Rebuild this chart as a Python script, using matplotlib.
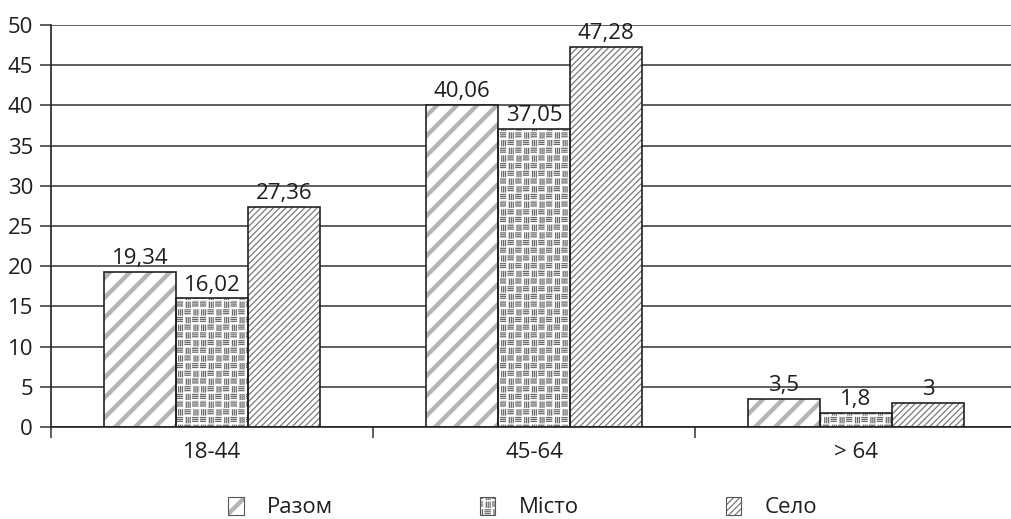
import warnings
import numpy as np
import matplotlib
matplotlib.use("Agg")
import matplotlib.pyplot as plt
import matplotlib.hatch as mhatch
from matplotlib.path import Path
from matplotlib.patches import Patch
from matplotlib.legend_handler import HandlerTuple

warnings.filterwarnings("ignore")

groups = ["18-44", "45-64", "> 64"]
series = ["Разом", "Місто", "Село"]
razom = [19.34, 40.06, 3.5]
misto = [16.02, 37.05, 1.8]
selo = [27.36, 47.28, 3.0]

plt.rcParams["font.family"] = ["Open Sans", "DejaVu Sans"]
plt.rcParams["hatch.linewidth"] = 0.9


# --- custom hatch textures (unit square = one hatch tile) ---
class SegmentHatch(mhatch.HatchPatternBase):
    char = "?"

    def __init__(self, hatch, density):
        if hatch is not None and self.char in hatch:
            self.segs = np.asarray(self.build(), dtype=float).reshape(-1, 2, 2)
        else:
            self.segs = np.zeros((0, 2, 2))
        self.num_vertices = len(self.segs) * 2

    def set_vertices_and_codes(self, vertices, codes):
        vertices[:] = self.segs.reshape(-1, 2)
        codes[0::2] = Path.MOVETO
        codes[1::2] = Path.LINETO


def diag(c):
    # line x - y = c across the tile
    return [[c - 0.2, -0.2], [c + 1.2, 1.2]]


class WideStripes(SegmentHatch):
    char = "R"

    def build(self):
        segs = []
        for k in range(-6, 7):
            c = k * 0.2
            for j in range(5):
                segs.append(diag(c + j * 0.011))
        return segs


class FineStripes(SegmentHatch):
    char = "S"

    def build(self):
        n = 16
        return [diag(k / n) for k in range(-2 * n, 2 * n + 1)]


class Weave(SegmentHatch):
    char = "M"

    def build(self):
        n = 13
        b = 1.0 / n
        segs = []
        for i in range(n + 1):
            for j in range(n + 1):
                x0, y0 = i * b, j * b
                for f in (0.22, 0.47, 0.72):
                    if (i + j) % 2 == 0:
                        segs.append([[x0 + 0.05 * b, y0 + f * b], [x0 + 0.72 * b, y0 + f * b]])
                    else:
                        segs.append([[x0 + f * b, y0 + 0.05 * b], [x0 + f * b, y0 + 0.72 * b]])
        return segs


mhatch._hatch_types.extend([WideStripes, FineStripes, Weave])

styles = [("R", "#b4b4b4"), ("M", "#6a6a6a"), ("S", "#7a7a7a")]
values = [razom, misto, selo]

fig = plt.figure(figsize=(10.11, 5.19), dpi=100)
ax = fig.add_axes([51 / 1011, 92 / 519, 966 / 1011, 402 / 519])

x = np.arange(len(groups)) + 0.5
w = 0.224
handles = []
for i, (vals, (h, hc)) in enumerate(zip(values, styles)):
    pos = x + (i - 1) * w
    ax.bar(pos, vals, w, color="white", edgecolor=hc, hatch=h, linewidth=0, zorder=2)
    ax.bar(pos, vals, w, fill=False, edgecolor="#222222", linewidth=1.2, zorder=3)
    for px, v in zip(pos, vals):
        ax.text(px, v + 0.95, f"{v:g}".replace(".", ","), ha="center", va="baseline",
                fontsize=16, color="#1e1e1e")
    handles.append((Patch(facecolor="white", edgecolor=hc, hatch=h, linewidth=0),
                    Patch(fill=False, edgecolor="#555555", linewidth=0.8)))

ax.set_xlim(0, 3)
ax.set_ylim(0, 50)
ax.set_yticks(np.arange(0, 51, 5))
ax.yaxis.grid(True, color="#333333", linewidth=1.1)
ax.set_axisbelow(True)
ax.set_xticks(x)
ax.set_xticklabels(groups)
ax.set_xticks([0, 1, 2, 3], minor=True)
ax.tick_params(axis="x", which="major", length=0, pad=11, labelsize=16)
ax.tick_params(axis="x", which="minor", length=8, width=1.1, color="#333333")
ax.tick_params(axis="y", length=8, width=1.1, pad=5, labelsize=16, color="#333333")
ax.tick_params(axis="both", labelcolor="#1e1e1e")
for side in ("top", "right"):
    ax.spines[side].set_visible(False)
for side in ("left", "bottom"):
    ax.spines[side].set_color("#222222")
    ax.spines[side].set_linewidth(1.2)

fig.legend(handles, series, handler_map={tuple: HandlerTuple(ndivide=1)},
           loc="center", bbox_to_anchor=(0.517, 0.022), ncol=3, frameon=False,
           fontsize=16, handlelength=0.7, handleheight=0.85, handletextpad=1.05,
           columnspacing=6.6, labelcolor="#1e1e1e")

fig.savefig("out.png", dpi=100)
